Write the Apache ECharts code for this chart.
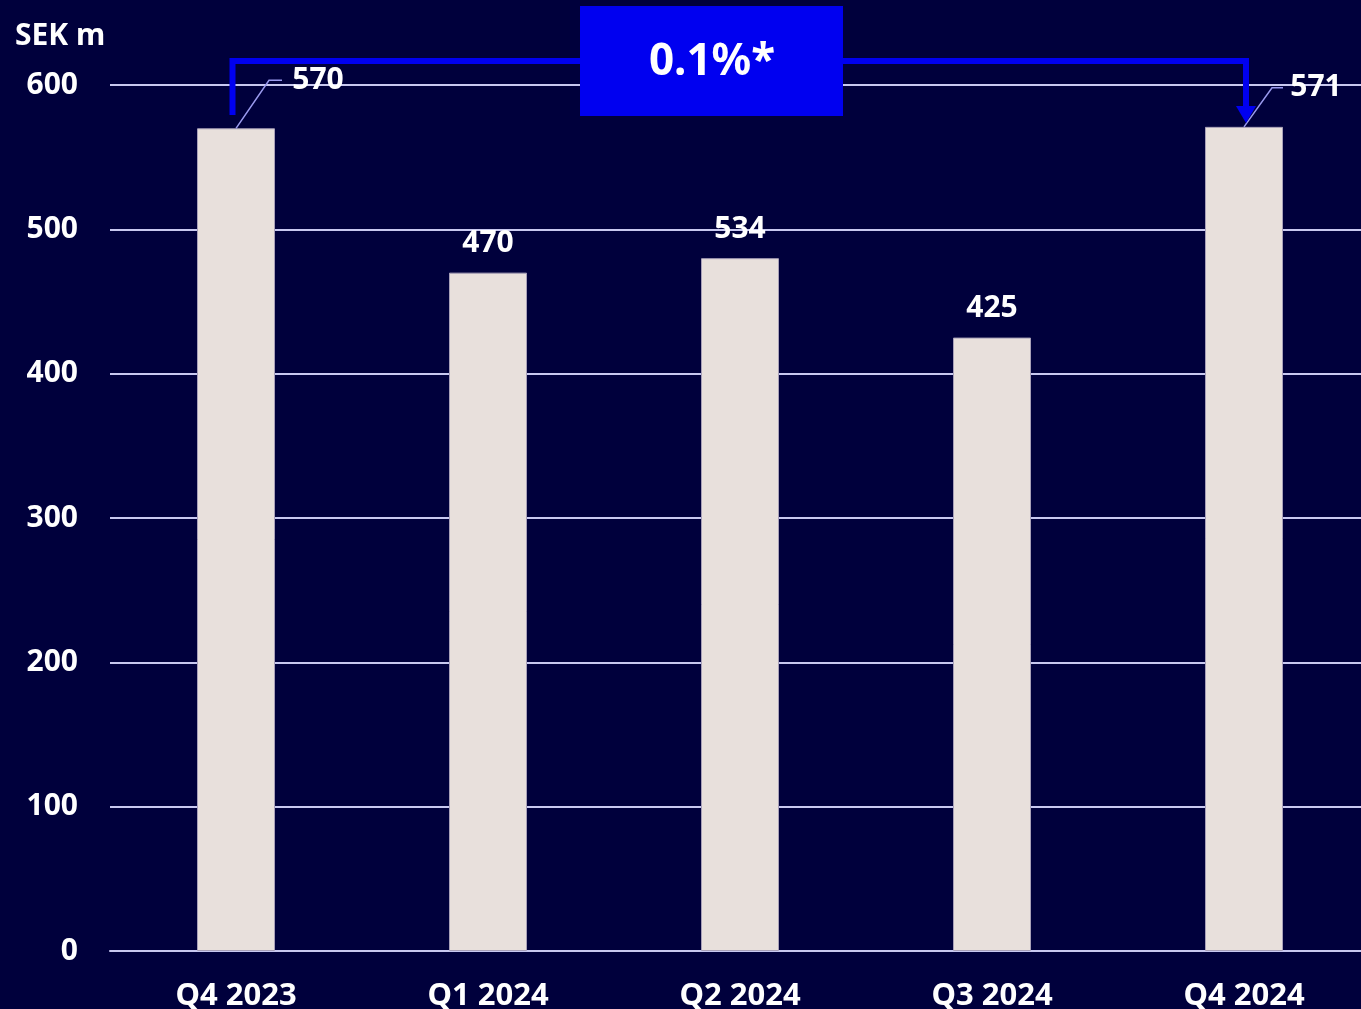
<!DOCTYPE html>
<html>
<head>
<meta charset="utf-8">
<script src="https://cdn.jsdelivr.net/npm/echarts@6/dist/echarts.min.js"></script>
<style>
html,body{margin:0;padding:0;background:#00003c;}
#chart{width:1361px;height:1009px;}
</style>
</head>
<body>
<div id="chart"></div>
<script>
const categories = ['Q4 2023', 'Q1 2024', 'Q2 2024', 'Q3 2024', 'Q4 2024'];
const barValues = [570, 470, 480, 425, 571];
const labelValues = [570, 470, 534, 425, 571];
const yTicks = [0, 100, 200, 300, 400, 500, 600];
const unitLabel = 'SEK m';
const changeLabel = '0.1%*';

const FONT = '"Noto Sans"';
const BG = '#00003c';
const BLUE = '#0000f0';
const chart = echarts.init(document.getElementById('chart'), null, {renderer: 'canvas'});

const data = barValues.map((v, i) => {
  const item = {value: v};
  if (i === 0) item.label = {offset: [82, -19]};
  if (i === categories.length - 1) item.label = {offset: [72, -10]};
  return item;
});

chart.setOption({
  backgroundColor: BG,
  animation: false,
  grid: {left: 110, top: 85, width: 1260, height: 866, containLabel: false, outerBoundsMode: 'none'},
  xAxis: {
    type: 'category',
    data: categories,
    axisLine: {show: true, lineStyle: {color: '#c8c8f0', width: 2}},
    axisTick: {show: false},
    axisLabel: {color: '#ffffff', fontFamily: FONT, fontWeight: 'bold', fontSize: 31, margin: 30}
  },
  yAxis: {
    type: 'value',
    min: yTicks[0],
    max: yTicks[yTicks.length - 1],
    interval: 100,
    axisLine: {show: false},
    axisTick: {show: false},
    splitLine: {lineStyle: {color: '#c8c8f0', width: 2}},
    axisLabel: {color: '#ffffff', fontFamily: FONT, fontWeight: 'bold', fontSize: 30, margin: 32}
  },
  series: [{
    type: 'bar',
    data: data,
    barWidth: 78,
    itemStyle: {color: '#e8e0dc', borderColor: '#a8a0b8', borderWidth: 1},
    label: {
      show: true,
      position: 'top',
      distance: 14,
      color: '#ffffff',
      fontFamily: FONT,
      fontWeight: 'bold',
      fontSize: 30,
      formatter: p => String(labelValues[p.dataIndex])
    },
    z: 3
  }],
  graphic: []
});

function draw() {
  const p0 = chart.convertToPixel({seriesIndex: 0}, [0, barValues[0]]);
  const n = categories.length - 1;
  const p4 = chart.convertToPixel({seriesIndex: 0}, [n, barValues[n]]);
  const lx = p0[0] - 3.5, rx = p4[0] + 2;
  const topY = 61;
  const g = [
    {type: 'text', left: 15, top: 21, style: {text: unitLabel, fill: '#ffffff', font: 'bold 30px ' + FONT}},
    // leader lines
    {type: 'polyline', shape: {points: [[p0[0], p0[1]], [p0[0] + 33, p0[1] - 48], [p0[0] + 46, p0[1] - 48]]},
      style: {stroke: '#9a9aee', lineWidth: 1.5, fill: null}, z: 5},
    {type: 'polyline', shape: {points: [[p4[0], p4[1]], [p4[0] + 28, p4[1] - 39], [p4[0] + 39, p4[1] - 39]]},
      style: {stroke: '#9a9aee', lineWidth: 1.5, fill: null}, z: 5},
    // bracket
    {type: 'polyline', shape: {points: [[lx, 115], [lx, topY], [rx, topY], [rx, 108]]},
      style: {stroke: BLUE, lineWidth: 6, fill: null, lineJoin: 'miter'}, z: 6},
    {type: 'polygon', shape: {points: [[rx - 10, 106], [rx + 10, 106], [rx, 123]]},
      style: {fill: BLUE}, z: 6},
    {type: 'rect', shape: {x: 580, y: 6, width: 263, height: 110}, style: {fill: BLUE}, z: 7},
    {type: 'text', x: 712, y: 62, style: {text: changeLabel, fill: '#ffffff', font: 'bold 44px ' + FONT,
      align: 'center', verticalAlign: 'middle'}, z: 8}
  ];
  chart.setOption({graphic: g});
}
draw();
</script>
</body>
</html>
